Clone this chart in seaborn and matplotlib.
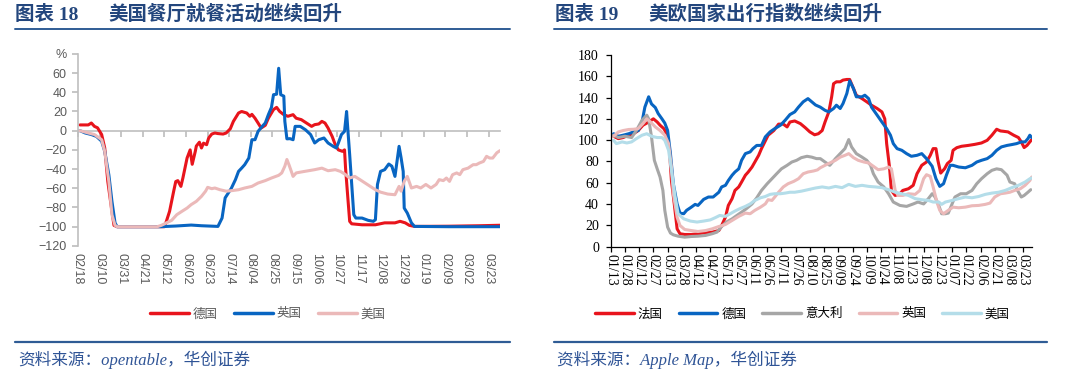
import numpy as np
import pandas as pd
import matplotlib
matplotlib.use("Agg")
import matplotlib.pyplot as plt
from matplotlib.lines import Line2D
from matplotlib.font_manager import FontProperties
import seaborn as sns

sns.set_theme(style="white")
plt.rcParams['font.family'] = ['Noto Sans CJK SC', 'DejaVu Sans']
plt.rcParams['axes.unicode_minus'] = True

# ---------------- chart 18: restaurant dining (days since 2020-02-18) ----------------
left_ticklabels = ['02/18', '03/10', '03/31', '04/21', '05/12', '06/02', '06/23', '07/14',
                   '08/04', '08/25', '09/15', '10/06', '10/27', '11/17', '12/08', '12/29',
                   '01/19', '02/09', '03/02', '03/23']

de18_days = [2, 10, 13, 16, 19, 23, 26, 29, 33, 35, 38, 60, 84, 86, 89, 93, 95, 97, 100, 102,
             106, 109, 111, 114, 115, 118, 120, 122, 125, 127, 130, 133, 136, 141, 144, 148, 151,
             156, 159, 164, 167, 169, 172, 175, 178, 182, 185, 190, 193, 196, 200, 204, 209, 212,
             217, 222, 227, 230, 234, 237, 240, 243, 247, 250, 253, 257, 259, 260, 262, 264, 266,
             276, 289, 298, 308, 313, 318, 322, 327, 360, 390, 410]
de18_vals = [6, 6, 8, 4.5, 3, -4, -18, -53, -84, -98.6, -100, -100, -100, -94, -84, -63, -53, -52,
             -58, -49, -28.5, -20, -35, -21.5, -16, -12, -18, -13, -14.6, -7.6, -3.5, -2.4, -3, -3.5,
             -2.4, 2, 9.7, 18.4, 20, 18.4, 15, 17, 13, 8, 2.8, 5.6, 13, 22, 24.3, 20, 16.7, 15, 16.7,
             13, 11.5, 8, 4.5, 6.3, 7, 9.7, 8, 2.8, -6, -14.6, -20, -21.5, -20, -39, -67, -94.4, -97,
             -98, -98, -96, -96, -94.4, -96, -98.6, -99.7, -99.5, -99, -98.5]

uk18_days = [0, 2, 7, 13, 18, 23, 26, 30, 33, 36, 38, 80, 95, 110, 120, 136, 140, 143, 146, 149,
             153, 156, 159, 162, 166, 169, 172, 175, 179, 182, 185, 188, 190, 193, 195, 197, 200,
             201, 203, 206, 209, 211, 216, 221, 226, 230, 234, 239, 243, 248, 251, 253, 256, 259,
             261, 262, 264, 268, 270, 276, 282, 287, 289, 291, 294, 298, 302, 305, 308, 312, 314,
             316, 317, 320, 324, 327, 360, 410]
uk18_vals = [0, 0, -2.4, -4, -6, -11, -21.5, -46, -73.6, -96, -100, -100, -99.3, -98.3, -99, -99.7,
             -91, -70, -65, -60, -51, -42.4, -39, -35.4, -28.5, -9.4, -9.4, -0.7, 4.5, 8, 16.7, 24.3,
             37.5, 38, 65, 37.5, 36, 9.7, -8.5, -8.3, -9.4, 4.5, 4.5, 1, -4, -12.8, -9.4, -7.6, -12.8,
             -16.3, -18, -12.8, -4, -0.7, 20, 4.5, -25, -87.5, -91, -91, -93.4, -94.4, -92.7, -56,
             -42.4, -40.6, -34.7, -37, -47.6, -16.3, -28.5, -42.4, -80.6, -85.8, -96, -99.7, -100, -100]

us18_days = [0, 2, 10, 16, 23, 26, 30, 33, 36, 38, 77, 81, 86, 91, 96, 101, 106, 110, 115, 120,
             124, 126, 130, 133, 138, 144, 149, 156, 162, 169, 175, 182, 188, 195, 198, 201, 203,
             205, 209, 212, 217, 224, 230, 237, 243, 250, 255, 259, 264, 269, 274, 279, 284, 289,
             294, 301, 308, 312, 314, 317, 320, 324, 329, 333, 338, 343, 348, 351, 355, 358, 361,
             364, 368, 371, 374, 379, 384, 387, 390, 394, 397, 400, 403, 407, 410]
us18_vals = [0, 0, -2.4, -4, -9.4, -21.5, -53, -87.5, -98.6, -100, -100, -98.6, -96, -93.4, -87.5,
             -84, -80.6, -77, -73.6, -68.4, -63, -59, -60.4, -59.7, -61.5, -63, -62.5, -61.5, -59.7,
             -58, -54.5, -52, -49.3, -46.5, -44, -37, -30, -35.4, -47.6, -44, -43, -41.7, -40.6, -39,
             -41.7, -40.6, -42.4, -45, -49.3, -47.6, -51, -54.5, -58, -61.5, -64, -66, -66.7, -58,
             -63, -52.8, -47.6, -59.7, -58, -59.7, -56, -59.7, -56, -51, -52, -49.3, -52.8, -45.8,
             -44, -45.8, -40.6, -39, -35.4, -35.4, -33.7, -32, -26.7, -28.5, -28.5, -23, -20.8]

left_names = ['德国', '英国', '美国']
left_colors = ['#E8141C', '#0865C2', '#EBB9B9']

# ---------------- chart 19: Apple mobility (days since 2020-01-13) ----------------
right_ticklabels = ['01/13', '01/28', '02/12', '02/27', '03/13', '03/28', '04/12', '04/27',
                    '05/12', '05/27', '06/11', '06/26', '07/11', '07/26', '08/10', '08/25',
                    '09/09', '09/24', '10/09', '10/24', '11/08', '11/23', '12/08', '12/23',
                    '01/07', '01/22', '02/06', '02/21', '03/08', '03/23']

fr19_days = [3, 8, 13, 19, 24, 29, 34, 40, 45, 49, 52, 56, 59, 62, 64, 67, 70, 73, 78, 85, 92, 100,
             107, 114, 117, 121, 124, 128, 131, 135, 138, 142, 145, 149, 152, 156, 159, 163, 166,
             172, 177, 182, 186, 189, 194, 200, 205, 210, 215, 219, 223, 226, 230, 233, 235, 238,
             242, 245, 249, 252, 256, 259, 265, 270, 275, 281, 286, 289, 291, 294, 296, 300, 305,
             308, 314, 319, 323, 328, 333, 337, 340, 343, 345, 348, 352, 355, 359, 361, 365, 370,
             377, 384, 391, 397, 402, 407, 411, 414, 419, 425, 430, 433, 436, 439, 442, 444]
fr19_vals = [103.6, 101.4, 102.4, 104.6, 106, 109, 114, 117, 120, 117, 114, 110.8, 106, 90.4, 62,
             40, 16.6, 12, 11.3, 11.3, 12, 12.9, 13.5, 15, 19.8, 27.6, 38.6, 45, 52.7, 56, 60.6, 67,
             70, 74.7, 79.4, 85.7, 92, 99.2, 104.6, 109, 115, 115, 112.4, 117, 118, 115.5, 111.8,
             107.7, 105, 106, 109, 117, 126.5, 140.7, 153, 154.8, 154.8, 156.4, 157, 157, 148.5,
             142.2, 139, 136, 132.8, 129.7, 126.5, 120, 96.7, 74.7, 52.7, 48, 49.6, 52.7, 54.3, 57.5,
             68.4, 76.3, 79.4, 85.7, 92, 92, 81, 69, 73, 77.9, 81, 90.4, 92.9, 94.2, 95, 96, 97.3,
             99.8, 104.6, 110.2, 108.6, 108.3, 107.7, 104.6, 102.4, 98.3, 93, 95, 98.3, 100.5]

de19_days = [3, 8, 13, 19, 24, 29, 33, 36, 40, 43, 47, 50, 54, 57, 60, 63, 66, 70, 73, 77, 80, 85,
             89, 92, 98, 103, 108, 114, 117, 121, 124, 128, 131, 135, 138, 142, 147, 150, 154, 159,
             163, 168, 173, 179, 184, 189, 194, 198, 203, 208, 212, 216, 221, 226, 230, 235, 238,
             242, 245, 249, 252, 256, 259, 265, 268, 272, 275, 281, 286, 291, 295, 298, 302, 307,
             312, 317, 323, 328, 333, 339, 343, 347, 351, 354, 358, 361, 367, 374, 381, 386, 391,
             397, 402, 407, 412, 418, 423, 428, 433, 437, 440, 442, 444]
de19_vals = [106, 103.6, 104.6, 106, 107.7, 109, 117, 131, 140.7, 134, 130.6, 125, 120, 116, 109, 87,
             59, 40, 31.4, 30.8, 34, 37, 39.6, 38.6, 44.3, 46.5, 46.5, 51, 56, 57.5, 62, 67, 70, 73,
             81, 87.3, 88.9, 92, 95, 95, 103, 107.7, 110.8, 114, 118.7, 124, 126.5, 131, 136, 139,
             136, 133, 131, 128, 126.5, 129.7, 132.8, 129.7, 134.4, 143.8, 155.7, 148.5, 140.7, 140.7,
             142.2, 139, 131, 123.4, 117, 110.8, 104.6, 96.7, 92, 90.4, 87.3, 84.8, 85.7, 87.3, 82.6,
             75.4, 63.7, 56.5, 59, 67, 76.3, 76.3, 74.7, 74, 76.3, 79.4, 81, 82.6, 85.7, 90.4, 93.6,
             95, 95.8, 96.7, 98.3, 98.3, 101.4, 104.6, 102.4]

it19_days = [3, 8, 15, 22, 27, 33, 38, 40, 43, 46, 49, 52, 55, 57, 60, 63, 66, 71, 78, 85, 92, 100,
             107, 112, 117, 122, 128, 133, 138, 143, 149, 154, 159, 165, 170, 175, 180, 186, 191,
             196, 201, 207, 212, 217, 221, 226, 231, 237, 242, 247, 251, 254, 259, 265, 270, 274,
             277, 282, 288, 293, 298, 305, 312, 319, 324, 330, 335, 339, 342, 346, 349, 353, 356,
             360, 363, 369, 375, 381, 386, 391, 397, 402, 407, 412, 418, 421, 426, 429, 433, 436,
             440, 443]
it19_vals = [104.6, 102.4, 103.6, 102.4, 109, 118.7, 123.4, 120, 103, 81, 73, 65.3, 52.7, 34, 18.2,
             12.6, 11, 9.7, 8.8, 9.4, 9.7, 10.4, 12, 13.5, 18.8, 23, 26, 29.2, 32.3, 35.5, 40, 45.8,
             52.7, 59, 63.7, 68.4, 73, 76.3, 79.4, 81, 83.5, 84.8, 84, 82.6, 82.6, 79.4, 76.3, 82.6,
             87.3, 92, 100.5, 93.6, 87.3, 84, 81, 76.3, 68.4, 60.6, 56, 49.6, 41.8, 38.6, 37.7, 40,
             41.8, 40, 45, 49.6, 46.5, 38.6, 30.8, 30.8, 31.4, 40, 46.5, 49.6, 49.6, 52.7, 59, 63.7,
             68.4, 71.6, 73, 72.2, 67, 60.6, 59, 52.7, 46.5, 48, 51, 53.4]

uk19_days = [3, 8, 13, 19, 24, 29, 34, 38, 42, 47, 52, 57, 61, 64, 66, 70, 73, 78, 85, 92, 100, 107,
             114, 121, 128, 135, 142, 147, 152, 158, 163, 166, 170, 173, 177, 182, 187, 193, 198,
             203, 208, 214, 218, 221, 226, 231, 237, 242, 247, 251, 256, 261, 267, 272, 277, 282,
             288, 293, 296, 300, 303, 308, 314, 321, 326, 330, 333, 337, 340, 344, 347, 351, 356,
             361, 367, 374, 381, 388, 395, 400, 405, 411, 416, 421, 426, 432, 437, 442, 444]
uk19_vals = [103.6, 107.7, 109, 110, 110.2, 110.8, 115.5, 120, 117, 112.4, 109, 104.6, 96.7, 74.7,
             49.6, 27.6, 19.8, 16, 15, 14.1, 15, 16.6, 18.8, 20.7, 24.5, 28.3, 31.4, 30.8, 34, 37, 40,
             44, 43.3, 46.5, 51, 56, 59, 61.2, 63.7, 68.4, 70, 71, 72, 74, 76.3, 78.5, 81, 84, 85.7,
             87.3, 83.5, 81, 79.4, 78.5, 75.4, 72.2, 73, 74.7, 73, 52.7, 48, 48, 49.6, 49, 52.7, 63.7,
             67.5, 66, 56, 41.8, 34, 30.8, 34, 37, 36.4, 37, 38.3, 38.6, 39.6, 40.8, 46.5, 49.6, 50.2,
             51, 52.7, 54.3, 57.5, 62, 65.3]

us19_days = [3, 6, 12, 17, 22, 27, 33, 38, 43, 49, 54, 57, 61, 64, 68, 71, 77, 84, 91, 98, 105, 110,
             115, 121, 126, 131, 136, 142, 147, 152, 158, 163, 168, 173, 179, 184, 189, 194, 201,
             208, 216, 223, 230, 237, 244, 251, 258, 265, 272, 279, 286, 293, 300, 307, 314, 321,
             328, 335, 340, 346, 349, 353, 360, 367, 374, 381, 388, 395, 402, 409, 416, 423, 430,
             437, 442, 444]
us19_vals = [99.8, 96.7, 98.3, 97.3, 98.3, 101.4, 104.6, 106, 103.6, 102.4, 102.4, 99.8, 90.4, 71.6,
             46.5, 30.8, 26, 23.9, 23, 23.9, 25, 27, 29.2, 28.3, 30.8, 33.3, 35.5, 37.7, 40, 43.3,
             45.8, 47, 49, 49.6, 49.6, 50.2, 51, 51, 52, 53.4, 55, 56, 55, 56.5, 55.3, 58.4, 56.5,
             57.5, 56.5, 56, 55.3, 53.4, 51, 49.6, 48, 45, 44, 43.3, 41.8, 41.8, 39.6, 41.8, 43.3, 45,
             46.5, 45.8, 47, 49, 50.2, 51, 52.7, 55.3, 57.5, 60.6, 63.7, 64.4]

right_names = ['法国', '德国', '意大利', '英国', '美国']
right_colors = ['#E8141C', '#0865C2', '#A6A6A6', '#EBB9B9', '#B4DDE9']

left_df = pd.concat([
    pd.DataFrame({'day': de18_days, 'val': de18_vals, 'country': '德国'}),
    pd.DataFrame({'day': uk18_days, 'val': uk18_vals, 'country': '英国'}),
    pd.DataFrame({'day': us18_days, 'val': us18_vals, 'country': '美国'}),
])
right_df = pd.concat([
    pd.DataFrame({'day': fr19_days, 'val': fr19_vals, 'country': '法国'}),
    pd.DataFrame({'day': de19_days, 'val': de19_vals, 'country': '德国'}),
    pd.DataFrame({'day': it19_days, 'val': it19_vals, 'country': '意大利'}),
    pd.DataFrame({'day': uk19_days, 'val': uk19_vals, 'country': '英国'}),
    pd.DataFrame({'day': us19_days, 'val': us19_vals, 'country': '美国'}),
])

fig = plt.figure(figsize=(10.8, 3.8), dpi=100)
ax1 = fig.add_axes([0.0722, 0.3529, 0.3907, 0.5053])
ax2 = fig.add_axes([0.5655, 0.3513, 0.3898, 0.5040])

GRAY = '#BFBFBF'
TXT_GRAY = '#595959'

# left chart
sns.lineplot(data=left_df, x='day', y='val', hue='country', hue_order=left_names,
             palette=left_colors, estimator=None, sort=False, lw=2.2, legend=False, ax=ax1)
ax1.set_xlim(0, 410)
ax1.set_ylim(-120, 80)
yt = list(range(-120, 81, 20))
ax1.set_yticks(yt)
ax1.set_yticklabels(['%' if t == 80 else str(t).replace('-', '\u2212') for t in yt],
                    family='Liberation Sans', fontsize=9, color=TXT_GRAY)
ax1.set_xticks(np.arange(len(left_ticklabels)) * 21)
ax1.set_xticklabels(left_ticklabels, rotation=-90, family='Liberation Sans', fontsize=9,
                    color=TXT_GRAY)
ax1.set_xlabel('')
ax1.set_ylabel('')
for s in ['top', 'right', 'bottom']:
    ax1.spines[s].set_visible(False)
ax1.spines['left'].set_color(GRAY)
ax1.spines['left'].set_linewidth(1.2)
ax1.tick_params(axis='y', left=True, direction='out', length=4, color=GRAY, pad=4)
ax1.tick_params(axis='x', bottom=False, length=0, pad=5)

# zero line with its own tick marks
sec = ax1.secondary_xaxis(0.6)
sec.set_alignment('bottom')
sec.set_xticks(np.arange(len(left_ticklabels)) * 21)
sec.tick_params(axis='x', bottom=True, direction='out', length=4, color=GRAY,
                labelbottom=False, labeltop=False)
sec.spines['bottom'].set_color(GRAY)
sec.spines['bottom'].set_linewidth(1.2)

# right chart
sns.lineplot(data=right_df, x='day', y='val', hue='country', hue_order=right_names,
             palette=right_colors, estimator=None, sort=False, lw=2.2, legend=False, ax=ax2)
ax2.set_xlim(0, 444)
ax2.set_ylim(0, 180)
ax2.set_yticks(range(0, 181, 20))
ax2.set_yticklabels([str(t) for t in range(0, 181, 20)], family='Liberation Serif',
                    fontsize=10, color='black')
ax2.set_xticks(np.arange(len(right_ticklabels)) * 15)
ax2.set_xticklabels(right_ticklabels, rotation=-90, family='Liberation Serif', fontsize=10,
                    color='black')
ax2.set_xlabel('')
ax2.set_ylabel('')
for s in ['top', 'right']:
    ax2.spines[s].set_visible(False)
for s in ['left', 'bottom']:
    ax2.spines[s].set_color('black')
    ax2.spines[s].set_linewidth(0.9)
ax2.tick_params(axis='both', left=True, bottom=True, direction='out', length=3.5,
                color='black', width=0.9)
ax2.tick_params(axis='y', pad=5)
ax2.tick_params(axis='x', pad=2)

# legends
leg_font = FontProperties(family='Noto Sans CJK SC', size=9)
h1 = [Line2D([], [], color=c, lw=2.5) for c in left_colors]
fig.legend(h1, left_names, loc='center', bbox_to_anchor=(0.248, 0.174), ncol=3, frameon=False,
           handlelength=3.1, handletextpad=0.3, columnspacing=1.3, prop=leg_font,
           labelcolor=TXT_GRAY)
h2 = [Line2D([], [], color=c, lw=2.5) for c in right_colors]
fig.legend(h2, right_names, loc='center', bbox_to_anchor=(0.743, 0.174), ncol=5, frameon=False,
           handlelength=3.1, handletextpad=0.3, columnspacing=1.3, prop=leg_font,
           labelcolor='black')

# titles, rules and sources
NAVY = '#23467D'
RULE = '#2F5C95'
ty = 1 - 14 / 380
fig.text(15 / 1080, ty, '图表 18', family=['Liberation Serif', 'Noto Sans CJK SC'],
         fontsize=14, fontweight='bold', color=NAVY, va='center')
fig.text(108 / 1080, ty, '美国餐厅就餐活动继续回升', fontsize=14, fontweight='bold',
         color=NAVY, va='center')
fig.text(555 / 1080, ty, '图表 19', family=['Liberation Serif', 'Noto Sans CJK SC'],
         fontsize=14, fontweight='bold', color=NAVY, va='center')
fig.text(648 / 1080, ty, '美欧国家出行指数继续回升', fontsize=14, fontweight='bold',
         color=NAVY, va='center')

for x0, x1 in [(15, 510), (554, 1047)]:
    fig.add_artist(Line2D([x0 / 1080, x1 / 1080], [1 - 29 / 380] * 2,
                          transform=fig.transFigure, color=RULE, lw=1.4))
    fig.add_artist(Line2D([x0 / 1080, x1 / 1080], [1 - 342 / 380] * 2,
                          transform=fig.transFigure, color=RULE, lw=1.6))

src_family = ['Liberation Serif', 'Noto Sans CJK SC']
fig.text(18 / 1080, 1 - 360 / 380, '资料来源：opentable，华创证券', family=src_family,
         style='italic', fontsize=12, color='#2F5496', va='center')
fig.text(557 / 1080, 1 - 360 / 380, '资料来源：Apple Map，华创证券', family=src_family,
         style='italic', fontsize=12, color='#2F5496', va='center')

fig.savefig('out.png', dpi=100)
